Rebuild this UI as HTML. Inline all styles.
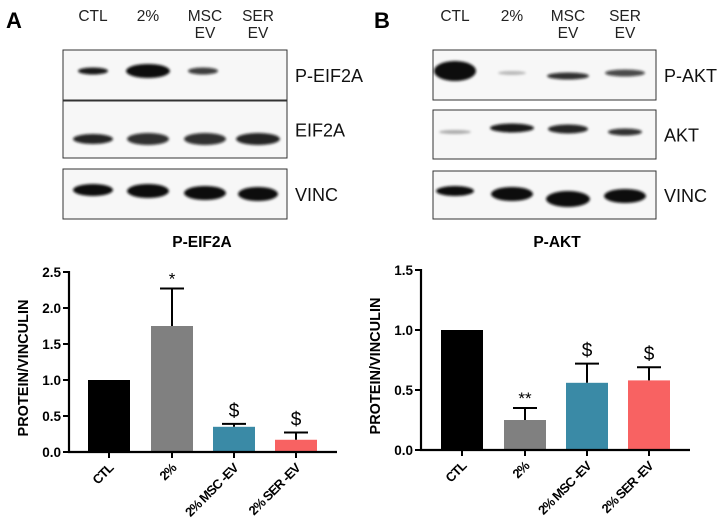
<!DOCTYPE html>
<html><head><meta charset="utf-8"><style>
body{margin:0;background:#fff;}
svg{display:block;font-family:"Liberation Sans",Arial,sans-serif;}
</style></head><body>
<svg id="fig" width="726" height="528" viewBox="0 0 726 528">
<defs><filter id="bl" x="-30%" y="-100%" width="160%" height="300%"><feGaussianBlur stdDeviation="1.2"/></filter></defs>
<g id="blots"></g>
<g id="charts"></g>
</svg>
<script>
const categories=["CTL","2%","2% MSC -EV","2% SER -EV"];
const colors=["#000000","#808080","#3a8aa6","#f86262"];
const valuesA=[1.0,1.75,0.35,0.17];
const errorsA=[0,2.27,0.39,0.27];
const marksA=["","*","$","$"];
const ticksA=[0,0.5,1.0,1.5,2.0,2.5];
const valuesB=[1.0,0.25,0.56,0.58];
const errorsB=[0,0.35,0.72,0.69];
const marksB=["","**","$","$"];
const ticksB=[0,0.5,1.0,1.5];
const lanes=["CTL","2%","MSC\nEV","SER\nEV"];
const NS="http://www.w3.org/2000/svg";
function el(p,t,a,txt){const e=document.createElementNS(NS,t);for(const k in a)e.setAttribute(k,a[k]);if(txt!=null)e.textContent=txt;p.appendChild(e);return e;}
const B=document.getElementById('blots'),C=document.getElementById('charts');

let t=el(B,'text',{x:6,y:28,'font-size':22,'font-weight':'bold'},'A');


t=el(B,'text',{x:374,y:28,'font-size':22,'font-weight':'bold'},'B');



function blotPanel(x0,w,boxes,laneX,names,tag){
  lanes.forEach((l,i)=>{
    const parts=l.split("\n");
    parts.forEach((p,j)=>{
      const tt=el(B,'text',{x:laneX[i],y:21+j*17,'font-size':15.5,'text-anchor':'middle',fill:'#222'},p);
      
      
    });
  });
  boxes.forEach((bx,k)=>{
    const r=el(B,'rect',{x:x0,y:bx.y,width:w,height:bx.h,fill:'#f7f7f7',stroke:'#333','stroke-width':1});
    
    
    bx.bands.forEach((b,i)=>{
      if(b[2]<=0)return;
      const e=el(B,'ellipse',{cx:laneX[i]+(b[3]||0),cy:bx.y+b[0],rx:b[1],ry:b[2],fill:'#111','fill-opacity':b[4]||1,filter:'url(#bl)'});
      
      
    });
    const lt=el(B,'text',{x:x0+w+8,y:bx.y+bx.h/2+7,'font-size':18,fill:'#111'},names[k]);
    
    
  });
}
blotPanel(63,224,[
 {y:50,h:50,bands:[[21,15,3.5,0,0.95],[21,22,7,0,1],[21,15,3.5,-2,0.8],[0,0,0]]},
 {y:101,h:57,bands:[[38,20,5,0,0.9],[38,21,6,0,0.85],[38,21,6,0,0.85],[38,22,6,0,0.9]]},
 {y:169,h:50,bands:[[21,20,6,0,1],[22,21,7,0,1],[24,21,7,0,1],[25,20,7,0,1]]}
],[93,148,205,258],["P-EIF2A","EIF2A","VINC"],'a');
blotPanel(433,223,[
 {y:50,h:50,bands:[[21,21,10,0,1],[23,14,2,0,0.25],[26,21,3.5,0,0.85],[23,20,3.5,0,0.75]]},
 {y:110,h:49,bands:[[22,16,2,0,0.3],[18,22,4.5,0,0.95],[19,20,4.5,0,0.9],[22,17,3.5,0,0.85]]},
 {y:171,h:48,bands:[[20,19,5,0,1],[23,21,7,0,1],[28,22,8,0,1],[25,21,7,0,1]]}
],[455,512,568,625],["P-AKT","AKT","VINC"],'b');

function chart(o){
  const {x0,x1,y0,pxPerUnit,barX,bw,vals,errs,marks,ticks,title,titleX,tag}=o;
  const y=v=>y0-v*pxPerUnit;
  const tt=el(C,'text',{x:titleX,y:247,'font-size':15.5,'font-weight':'bold','text-anchor':'middle'},title);
  
  
  vals.forEach((v,i)=>{
    const bx=barX[i];
    const r=el(C,'rect',{x:bx,y:y(v),width:bw,height:y0-y(v),fill:colors[i]});
    
    
    if(errs[i]>v){
      const cx=bx+bw/2;
      const l=el(C,'path',{d:`M${cx} ${y(v)}V${y(errs[i])}M${cx-12} ${y(errs[i])}H${cx+12}`,stroke:'#000','stroke-width':2,fill:'none'});
      
      
    }
    if(marks[i]){
      const m=marks[i]=="$";
      const top=Math.max(errs[i],v);
      const s=el(C,'text',{x:bx+bw/2,y:y(top)-(m?7:4),'font-size':m?19:17,'text-anchor':'middle'},marks[i]);
      
      
    }
    const lx=bx+bw/2+5, ly=y0+17;
    const lab=el(C,'text',{x:lx,y:ly,'font-size':13,'font-weight':'bold','text-anchor':'end',transform:`rotate(-45 ${lx} ${ly})`,'letter-spacing':'-0.8'},categories[i]);
    
    
    const tk=el(C,'line',{x1:bx+bw/2,x2:bx+bw/2,y1:y0,y2:y0+6,stroke:'#000','stroke-width':2});
    
    
  });
  ticks.forEach(v=>{
    const l=el(C,'line',{x1:x0-6,x2:x0,y1:y(v),y2:y(v),stroke:'#000','stroke-width':2});
    
    
    const s=el(C,'text',{x:x0-8,y:y(v)+5,'font-size':13.5,'font-weight':'bold','text-anchor':'end'},v.toFixed(1));
    
    
  });
  const ax=el(C,'path',{d:`M${x0} ${y(ticks[ticks.length-1])-1}V${y0}H${x1}`,stroke:'#000','stroke-width':2.2,fill:'none'});
  
  
  const yt=el(C,'text',{x:0,y:0,'font-size':14.5,'font-weight':'bold','text-anchor':'middle',transform:`translate(${x0-41} ${(y0+y(ticks[ticks.length-1]))/2+6}) rotate(-90)`},'PROTEIN/VINCULIN');
  
  
}
chart({x0:69,x1:337,y0:452,pxPerUnit:72,barX:[88,151,213,275],bw:42,vals:valuesA,errs:errorsA,marks:marksA,ticks:ticksA,title:'P-EIF2A',titleX:202,tag:'a'});
chart({x0:421,x1:690,y0:450,pxPerUnit:120,barX:[441,504,566,628],bw:42,vals:valuesB,errs:errorsB,marks:marksB,ticks:ticksB,title:'P-AKT',titleX:557,tag:'b'});
</script>
</body></html>
